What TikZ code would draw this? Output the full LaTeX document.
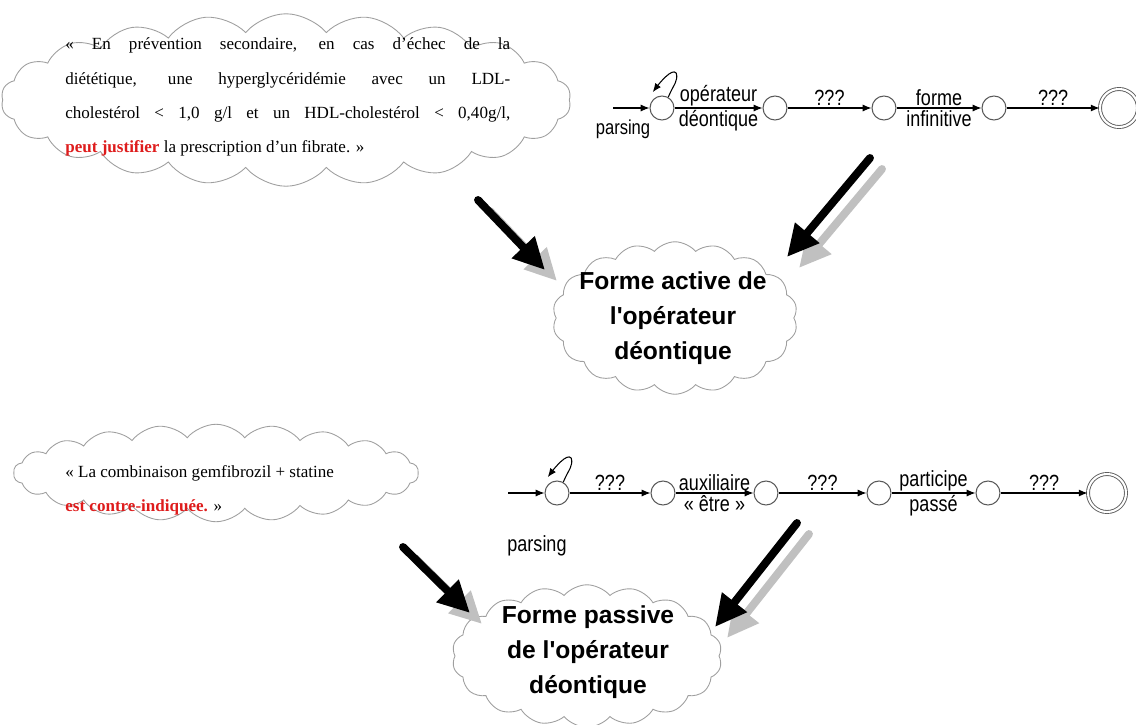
\documentclass[tikz,border=0pt]{standalone}
\usepackage{fontspec}
\setmainfont{Liberation Serif}
\newfontfamily\etroite[FakeStretch=0.82]{Liberation Sans}
\newfontfamily\grasse{Liberation Sans}
\usetikzlibrary{shapes.symbols,arrows.meta}
\definecolor{rouge}{RGB}{222,28,28}
\definecolor{ombre}{RGB}{192,192,192}
\tikzset{
  nuage/.style={cloud,draw=gray!75,line width=0.5pt,cloud puffs=18,cloud puff arc=100,
    cloud ignores aspect,inner sep=0pt},
  phrase/.style={font=\fontsize{9.7}{19.4}\selectfont,inner sep=0pt},
  titre/.style={font=\grasse\bfseries\fontsize{14}{20}\selectfont,align=center,inner sep=0pt},
  etat/.style={circle,draw=gray!70!black,line width=0.6pt,minimum size=0.48cm,inner sep=0pt},
  final/.style={circle,draw=gray!70!black,line width=0.5pt,double,double distance=1.2pt,
    minimum size=0.76cm,inner sep=0pt},
  trans/.style={-{Latex[length=5pt,width=4pt]},line width=0.6pt},
  lab/.style={font=\etroite\fontsize{12.5}{13}\selectfont,inner sep=1pt},
  grosse/.style={-{Triangle[length=18pt,width=17pt]},line width=4.5pt,line cap=round},
}
\begin{document}
\begin{tikzpicture}[x=0.02cm,y=-0.02cm]
  \useasboundingbox (0,0) rectangle (1136,724);
  % nuages
  \node[nuage,minimum width=11.4cm,minimum height=3.45cm,cloud puffs=22] (nuageA) at (286,100) {};
  \node[nuage,minimum width=4.9cm,minimum height=3.05cm] (nuageB) at (675,318) {};
  \node[nuage,minimum width=8.1cm,minimum height=1.95cm,cloud puffs=22] (nuageC) at (216,473) {};
  \node[nuage,minimum width=5.4cm,minimum height=2.85cm] (nuageD) at (587,656) {};
  % textes
  \node[phrase,anchor=west,text width=8.9cm,align=justify] (phraseA) at (65,97)
    {« En prévention secondaire, en cas d’échec de la\linebreak
     diététique, une hyperglycéridémie avec un LDL-\linebreak
     cholestérol < 1,0 g/l et un HDL-cholestérol < 0,40g/l,\linebreak
     \textcolor{rouge}{\bfseries peut justifier} la prescription d’un fibrate. »};
  \node[phrase,anchor=west,align=left] (phraseC) at (65,490)
    {« La combinaison gemfibrozil + statine\\
     \textcolor{rouge}{\bfseries est contre-indiquée.} »};
  \node[titre] (formeA) at (673,318) {Forme active de\\l'opérateur\\déontique};
  \node[titre] (formeP) at (588,652) {Forme passive\\de l'opérateur\\déontique};
  % automate actif
  \coordinate (a0) at (613,108);
  \node[etat] (a1) at (662,108) {};
  \node[etat] (a2) at (775,108) {};
  \node[etat] (a3) at (884,108) {};
  \node[etat] (a4) at (994,108) {};
  \node[final] (a5) at (1119,108) {};
  \draw[trans] (a0) -- (a1);
  \draw[trans] (a1) -- node[lab,above]{opérateur} node[lab,below]{déontique} (a2);
  \draw[trans] (a2) -- node[lab,above]{???} (a3);
  \draw[trans] (a3) -- node[lab,above]{forme} node[lab,below]{infinitive} (a4);
  \draw[trans] (a4) -- node[lab,above]{???} (a5);
  \draw[trans] (a1.60) .. controls +(6,-14) and +(2,8) .. ++(8,-24)
    .. controls +(-4,-6) and +(6,-8) .. ([shift={(-3,-5)}]a1.120);
  \node[lab,font=\etroite\fontsize{11.5}{12}\selectfont] (parseA) at (623,129) {parsing};
  % automate passif
  \coordinate (b0) at (508,493);
  \node[etat] (b1) at (557,493) {};
  \node[etat] (b2) at (663,493) {};
  \node[etat] (b3) at (766,493) {};
  \node[etat] (b4) at (879,493) {};
  \node[etat] (b5) at (988,493) {};
  \node[final] (b6) at (1107,493) {};
  \draw[trans] (b0) -- (b1);
  \draw[trans] (b1) -- node[lab,above]{???} (b2);
  \draw[trans] (b2) -- node[lab,above]{auxiliaire} node[lab,below]{« être »} (b3);
  \draw[trans] (b3) -- node[lab,above]{???} (b4);
  \draw[trans] (b4) -- node[lab,above]{participe} node[lab,below]{passé} (b5);
  \draw[trans] (b5) -- node[lab,above]{???} (b6);
  \draw[trans] (b1.60) .. controls +(6,-14) and +(2,8) .. ++(8,-24)
    .. controls +(-4,-6) and +(6,-8) .. ([shift={(-3,-5)}]b1.120);
  \node[lab] (parseB) at (537,546) {parsing};
  % grosses fleches (ombre grise puis noire)
  \coordinate (f1) at (478,200); \coordinate (g1) at (545,270);
  \coordinate (f2) at (870,158); \coordinate (g2) at (787,257);
  \coordinate (f3) at (403,547); \coordinate (g3) at (470,613);
  \coordinate (f4) at (797,523); \coordinate (g4) at (715,627);
  \foreach \d/\a in {f1/g1,f2/g2,f3/g3,f4/g4}{
    \draw[grosse,ombre] ([shift={(12,11)}]\d) -- ([shift={(12,11)}]\a);
    \draw[grosse,black] (\d) -- (\a);
  }
\end{tikzpicture}
\end{document}
